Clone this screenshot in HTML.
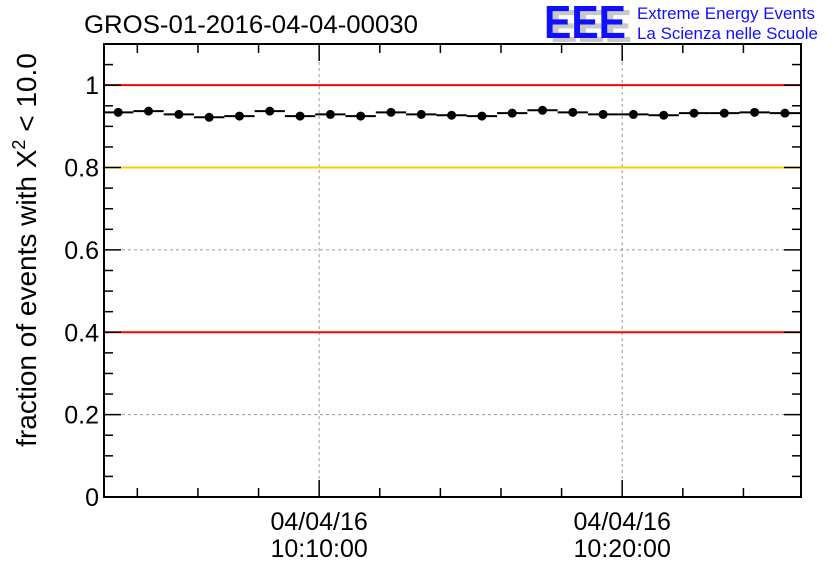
<!DOCTYPE html>
<html><head><meta charset="utf-8"><style>
body{margin:0;background:#fff;width:836px;height:572px;overflow:hidden}
svg{display:block;font-family:"Liberation Sans",sans-serif}
</style></head><body>
<svg id="chart" width="836" height="572">
<text x="84" y="33" font-size="25" fill="#000" textLength="334" lengthAdjust="spacingAndGlyphs">GROS-01-2016-04-04-00030</text>
<g>
<text x="550" y="42" font-size="46" font-weight="bold" fill="#c8c8c8" textLength="82" lengthAdjust="spacingAndGlyphs">EEE</text>
<text x="544" y="38" font-size="46" font-weight="bold" fill="#1010ff" textLength="82" lengthAdjust="spacingAndGlyphs">EEE</text>
<text x="637" y="19" font-size="16.5" fill="#1010ff" textLength="178" lengthAdjust="spacingAndGlyphs">Extreme Energy Events</text>
<text x="637" y="39" font-size="16.5" fill="#1010ff" textLength="181" lengthAdjust="spacingAndGlyphs">La Scienza nelle Scuole</text>
</g>
<text transform="translate(36,250) rotate(-90)" text-anchor="middle" font-size="28">fraction of events with Χ<tspan dy="-11" font-size="18">2</tspan><tspan dy="11"> &lt; 10.0</tspan></text>
</svg>
<script>
const minutes=[3,4,5,6,7,8,9,10,11,12,13,14,15,16,17,18,19,20,21,22,23,24,25];
const fractions=[0.934,0.937,0.929,0.922,0.925,0.937,0.925,0.929,0.925,0.934,0.929,0.927,0.925,0.932,0.939,0.934,0.929,0.929,0.927,0.932,0.932,0.934,0.932];
const yTicks=[0,0.2,0.4,0.6,0.8,1];
const yTickLabels=["0","0.2","0.4","0.6","0.8","1"];
const xMajor=[10,20];
const xMajorLabels=[["04/04/16","10:10:00"],["04/04/16","10:20:00"]];
const refLines=[{v:1,c:"#ff0000"},{v:0.8,c:"#ffcc00"},{v:0.4,c:"#ff0000"}];
const L=104,R=801,T=44,B=497,xMin=2.9,xMax=25.9,yMin=0,yMax=1.1,binOffset=0.37;
const X=m=>L+(m-xMin)/(xMax-xMin)*(R-L);
const Y=v=>B-(v-yMin)/(yMax-yMin)*(B-T);
const svg=document.getElementById('chart');const NS='http://www.w3.org/2000/svg';
function mk(t,a,name,p){const e=document.createElementNS(NS,t);for(const k in a)e.setAttribute(k,a[k]);


(p||svg).appendChild(e);return e;}
yTicks.slice(1,-1).forEach(v=>{mk('line',{x1:L,x2:R,y1:Y(v),y2:Y(v),stroke:'#999','stroke-dasharray':'3,3'},'y-grid-line');});
xMajor.forEach(m=>{mk('line',{x1:X(m),x2:X(m),y1:T,y2:B,stroke:'#999','stroke-dasharray':'3,3'},'x-grid-line');});
refLines.forEach(r=>{mk('line',{x1:L,x2:R,y1:Y(r.v),y2:Y(r.v),stroke:r.c,'stroke-width':2},'threshold-line');});
for(let v=0;v<=1.1001;v+=0.05){const maj=Math.abs(v*5-Math.round(v*5))<1e-6;const len=maj?17:9;
mk('line',{x1:L,x2:L+len,y1:Y(v),y2:Y(v),stroke:'#000','stroke-width':1.5},'y-tick');
mk('line',{x1:R,x2:R-len,y1:Y(v),y2:Y(v),stroke:'#000','stroke-width':1.5},'y-tick-right');}
yTicks.forEach((v,i)=>{const t=mk('text',{x:L-5,y:Y(v)+9,'text-anchor':'end','font-size':25},'y-tick-label');t.textContent=yTickLabels[i];});
for(let m=4;m<=25;m+=2){const maj=m%10===0;const len=maj?17:9;
mk('line',{x1:X(m),x2:X(m),y1:B,y2:B-len,stroke:'#000','stroke-width':1.5},'x-tick');
mk('line',{x1:X(m),x2:X(m),y1:T,y2:T+len,stroke:'#000','stroke-width':1.5},'x-tick-top');}
xMajor.forEach((m,i)=>{[0,1].forEach(j=>{const t=mk('text',{x:X(m),y:530+j*27,'text-anchor':'middle','font-size':25},'x-tick-label');t.textContent=xMajorLabels[i][j];});});
const g=mk('g',{},'data-series');
minutes.forEach((m,i)=>{const y=Y(fractions[i]);const c=m+binOffset;
mk('line',{x1:X(c-0.5),x2:X(c+0.5),y1:y,y2:y,stroke:'#000','stroke-width':2},'error-bar',g);
mk('circle',{cx:X(c),cy:y,r:4.5,fill:'#000'},'data-point',g);});
mk('rect',{x:L,y:T,width:R-L,height:B-T,fill:'none',stroke:'#000','stroke-width':2},'plot-frame');
</script>
</body></html>
